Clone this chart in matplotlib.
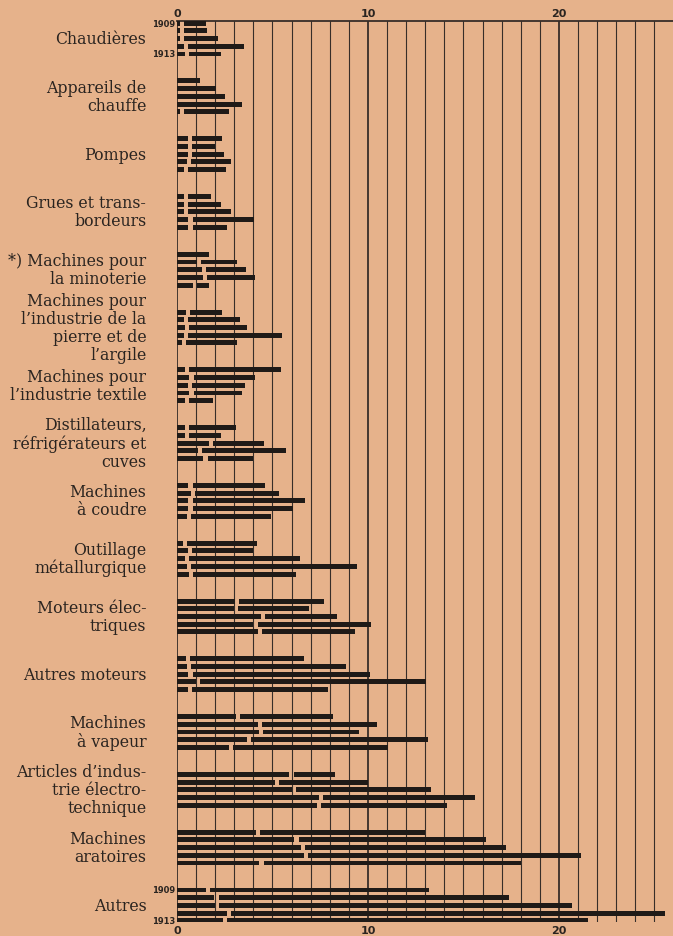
import matplotlib
matplotlib.use("Agg")
import matplotlib.pyplot as plt
from matplotlib.transforms import blended_transform_factory

# category labels, top to bottom
categories = [
    "Chaudières",
    "Appareils de\nchauffe",
    "Pompes",
    "Grues et trans-\nbordeurs",
    "*) Machines pour\nla minoterie",
    "Machines pour\nl’industrie de la\npierre et de\nl’argile",
    "Machines pour\nl’industrie textile",
    "Distillateurs,\nréfrigérateurs et\ncuves",
    "Machines\nà coudre",
    "Outillage\nmétallurgique",
    "Moteurs élec-\ntriques",
    "Autres moteurs",
    "Machines\nà vapeur",
    "Articles d’indus-\ntrie électro-\ntechnique",
    "Machines\naratoires",
    "Autres",
]
years = ["1909", "1910", "1911", "1912", "1913"]

# first (left) segment of each bar, 1909..1913
first_part = [
    [0.15, 0.15, 0.15, 0.36, 0.40],
    [0.00, 0.00, 0.00, 0.00, 0.17],
    [0.57, 0.57, 0.57, 0.50, 0.36],
    [0.36, 0.36, 0.36, 0.60, 0.60],
    [0.00, 1.05, 1.29, 1.34, 0.83],
    [0.45, 0.36, 0.43, 0.36, 0.26],
    [0.40, 0.65, 0.57, 0.65, 0.40],
    [0.40, 0.43, 1.69, 1.09, 1.38],
    [0.60, 0.72, 0.60, 0.60, 0.52],
    [0.31, 0.57, 0.43, 0.52, 0.64],
    [3.02, 2.98, 4.40, 4.00, 4.22],
    [0.47, 0.52, 0.60, 0.99, 0.59],
    [3.07, 4.25, 4.28, 3.67, 2.72],
    [5.88, 5.14, 6.02, 7.44, 7.31],
    [4.13, 6.15, 6.47, 6.64, 4.31],
    [1.52, 1.96, 1.98, 2.63, 2.40],
]
# full bar length, 1909..1913
totals = [
    [1.52, 1.55, 2.16, 3.50, 2.33],
    [1.23, 2.02, 2.52, 3.42, 2.70],
    [2.38, 1.97, 2.45, 2.83, 2.59],
    [1.80, 2.30, 2.85, 4.05, 2.62],
    [1.70, 3.16, 3.60, 4.10, 1.69],
    [2.37, 3.28, 3.67, 5.50, 3.14],
    [5.45, 4.10, 3.57, 3.40, 1.90],
    [3.10, 2.33, 4.58, 5.70, 3.97],
    [4.62, 5.36, 6.69, 6.07, 4.93],
    [4.17, 3.97, 6.43, 9.40, 6.24],
    [7.72, 6.93, 8.36, 10.17, 9.31],
    [6.65, 8.87, 10.12, 13.03, 7.89],
    [8.15, 10.49, 9.53, 13.15, 11.04],
    [8.29, 10.00, 13.29, 15.60, 14.15],
    [12.97, 16.18, 17.20, 21.13, 17.99],
    [13.22, 17.39, 20.69, 25.55, 21.52],
]
tick_values = [0, 10, 20]

PAPER = "#e6b28b"
INK = "#1f1a17"
GRID = "#372e29"
GROUP_STEP = 7.5   # bar slots per group
GAP = 0.22         # white break between the two segments
BAR_H = 0.64

fig = plt.figure(figsize=(6.73, 9.37), dpi=100, facecolor=PAPER)
ax = fig.add_axes([0.263, 0.015, 0.737, 0.9615], facecolor=PAPER)

for gx in range(0, 27):
    lw = 1.3 if gx % 10 == 0 else 0.8
    ax.axvline(gx, color=GRID, lw=lw, zorder=1)

for i, (fp, tot) in enumerate(zip(first_part, totals)):
    for j in range(len(years)):
        y = i * GROUP_STEP + j
        if fp[j] > 0:
            ax.barh(y, fp[j], height=BAR_H, left=0, color=INK, zorder=3)
            ax.barh(y, tot[j] - fp[j] - GAP, height=BAR_H, left=fp[j] + GAP,
                    color=INK, zorder=3)
        else:
            ax.barh(y, tot[j], height=BAR_H, left=0, color=INK, zorder=3)

last_y = (len(categories) - 1) * GROUP_STEP + len(years) - 1
ax.set_xlim(0, 25.97)
ax.set_ylim(last_y + 0.15, -0.28)

# category names to the left of the plot
trans = blended_transform_factory(ax.transAxes, ax.transData)
for i, name in enumerate(categories):
    ax.text(-0.062, i * GROUP_STEP + 2, name, transform=trans, ha="right",
            va="center", fontsize=11.3, family="DejaVu Serif", color="#2a2420",
            linespacing=1.08)

# year markers on first and last groups
for i in (0, len(categories) - 1):
    for j in (0, len(years) - 1):
        ax.text(-0.004, i * GROUP_STEP + j, years[j], transform=trans,
                ha="right", va="center", fontsize=6, fontweight="bold",
                color="#2a2420")

ax.set_yticks([])
ax.set_xticks(tick_values)
ax.tick_params(axis="x", which="both", length=0, top=True, bottom=True,
               labeltop=True, labelbottom=True, pad=2.5, labelsize=8,
               colors="#2a2420")
for lab in ax.get_xticklabels():
    lab.set_fontweight("bold")
for side in ("left", "right", "bottom"):
    ax.spines[side].set_visible(False)
ax.spines["top"].set_color(GRID)
ax.spines["top"].set_linewidth(1.3)

fig.savefig("out.png", dpi=100, facecolor=PAPER)
